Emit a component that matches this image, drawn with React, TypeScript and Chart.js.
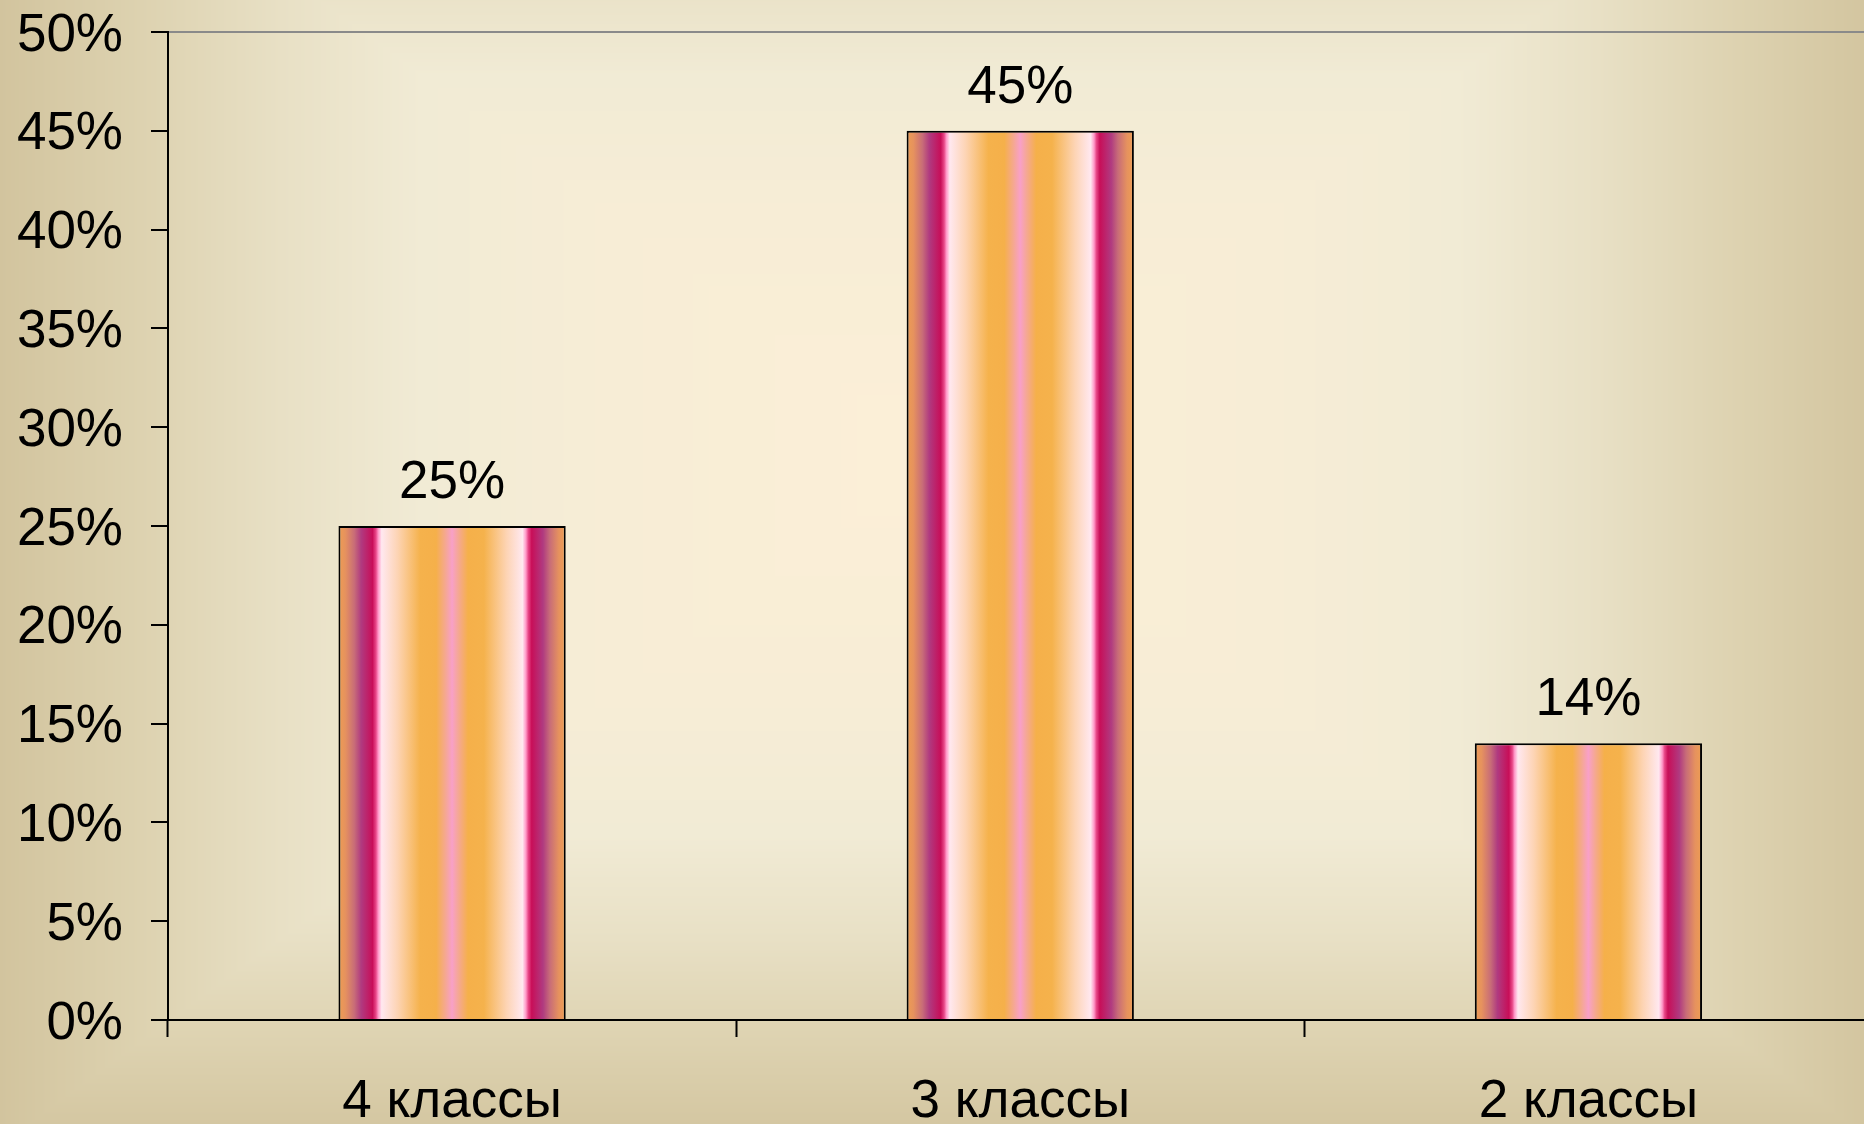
import { useEffect, useRef } from 'react';
import { Chart, registerables } from 'chart.js';

Chart.register(...registerables);

// ---- data ----
const categories = ['4 классы', '3 классы', '2 классы'];
const shares = [25, 45, 14];
const yMin = 0;
const yMax = 50;
const yStep = 5;

// ---- styling ----
const W = 1880;
const H = 1124;
const FONT = '"Liberation Sans", Arial, Helvetica, sans-serif';
const FONT_SIZE = 53;

const barStops: [number, string][] = [
  [0.0, '#EE9D52'],
  [0.03, '#E6925E'],
  [0.07, '#C86C78'],
  [0.1, '#B03A80'],
  [0.15, '#C80E58'],
  [0.165, '#E84888'],
  [0.175, '#FF98C8'],
  [0.19, '#FFE8F0'],
  [0.26, '#FDD4B4'],
  [0.36, '#F5B24C'],
  [0.43, '#F5B04A'],
  [0.47, '#F5A890'],
  [0.5, '#F8A0C8'],
  [0.53, '#F5A890'],
  [0.57, '#F5B04A'],
  [0.64, '#F5B24C'],
  [0.74, '#FDD4B4'],
  [0.81, '#FFE8F0'],
  [0.825, '#FF98C8'],
  [0.835, '#E84888'],
  [0.85, '#C80E58'],
  [0.9, '#B03A80'],
  [0.93, '#C86C78'],
  [0.97, '#E6925E'],
  [1.0, '#EE9D52'],
];

const bgStops: [number, string][] = [
  [0.0, '#FCEFD7'],
  [0.35, '#F7EDD6'],
  [0.55, '#F1EBD5'],
  [0.7, '#E8E0C5'],
  [0.85, '#DDD2B0'],
  [1.0, '#D2C49E'],
];

function hexToRgb(h: string): [number, number, number] {
  const n = parseInt(h.slice(1), 16);
  return [(n >> 16) & 255, (n >> 8) & 255, n & 255];
}

function makeBackground(w: number, h: number): HTMLCanvasElement {
  const c = document.createElement('canvas');
  c.width = w;
  c.height = h;
  const g = c.getContext('2d')!;
  const img = g.createImageData(w, h);
  const stops = bgStops.map(([o, col]) => [o, ...hexToRgb(col)] as [number, number, number, number]);
  const cx = 939;
  const cy = 455;
  const ky = 0.734;
  const tmax = 940;
  for (let y = 0; y < h; y++) {
    const dy = Math.abs(y - cy) / ky;
    for (let x = 0; x < w; x++) {
      let t = Math.max(Math.abs(x - cx), dy) / tmax;
      if (t > 1) t = 1;
      let k = 0;
      while (k < stops.length - 2 && t > stops[k + 1][0]) k++;
      const a = stops[k];
      const b = stops[k + 1];
      const f = (t - a[0]) / (b[0] - a[0]);
      const i = (y * w + x) * 4;
      img.data[i] = a[1] + (b[1] - a[1]) * f;
      img.data[i + 1] = a[2] + (b[2] - a[2]) * f;
      img.data[i + 2] = a[3] + (b[3] - a[3]) * f;
      img.data[i + 3] = 255;
    }
  }
  g.putImageData(img, 0, 0);
  return c;
}

export default function App() {
  const ref = useRef<HTMLCanvasElement | null>(null);

  useEffect(() => {
    if (!ref.current) return;
    const bg = makeBackground(W, H);

    const bgPlugin = {
      id: 'bgPlugin',
      beforeDraw(chart: any) {
        chart.ctx.save();
        chart.ctx.drawImage(bg, 0, 0);
        chart.ctx.restore();
      },
    };

    const labelPlugin = {
      id: 'valueLabels',
      afterDatasetsDraw(chart: any) {
        const ctx = chart.ctx;
        const meta = chart.getDatasetMeta(0);
        ctx.save();
        ctx.font = `${FONT_SIZE}px ${FONT}`;
        ctx.fillStyle = '#000';
        ctx.textAlign = 'center';
        ctx.textBaseline = 'alphabetic';
        meta.data.forEach((el: any, i: number) => {
          ctx.fillText(`${shares[i]}%`, el.x, el.y - 28);
        });
        ctx.restore();
      },
    };

    const chart = new Chart(ref.current, {
      type: 'bar',
      data: {
        labels: categories,
        datasets: [
          {
            data: shares,
            backgroundColor: (c: any) => {
              const chart = c.chart;
              const xs = chart.scales && chart.scales.x;
              if (!xs || !chart.chartArea || c.dataIndex === undefined) return '#F5B04A';
              const center = xs.getPixelForValue(c.dataIndex);
              const half = ((xs.width / categories.length) * 0.4) / 2;
              const g = chart.ctx.createLinearGradient(center - half, 0, center + half, 0);
              barStops.forEach(([o, col]) => g.addColorStop(o, col));
              return g;
            },
            borderColor: '#000',
            borderWidth: 2,
            barPercentage: 0.4,
            categoryPercentage: 1.0,
          },
        ],
      },
      options: {
        responsive: false,
        animation: false,
        layout: { padding: { left: 0, right: W - 1872.5, top: 32, bottom: 0 } },
        plugins: {
          legend: { display: false },
          tooltip: { enabled: false },
        },
        scales: {
          x: {
            ticks: { color: '#000', font: { family: FONT, size: FONT_SIZE }, padding: 34 },
            grid: {
              drawOnChartArea: false,
              tickLength: 17,
              tickColor: '#000',
              tickWidth: 2,
              offset: true,
            },
            border: { display: true, color: '#000', width: 2 },
            afterFit: (s: any) => {
              s.height = 104;
              s.paddingLeft = 0;
              s.paddingRight = 0;
            },
          },
          y: {
            min: yMin,
            max: yMax,
            ticks: {
              stepSize: yStep,
              callback: (v: any) => `${v}%`,
              color: '#000',
              font: { family: FONT, size: FONT_SIZE },
              padding: 28,
              labelOffset: 4,
            },
            grid: {
              color: (c: any) => (c.tick && c.tick.value === yMax ? '#8a8a8a' : 'rgba(0,0,0,0)'),
              lineWidth: 2,
              tickColor: '#000',
              tickLength: 17,
              tickWidth: 2,
              drawOnChartArea: true,
            },
            border: { display: true, color: '#000', width: 2 },
            afterFit: (s: any) => {
              s.width = 168;
              s.paddingTop = 0;
              s.paddingBottom = 0;
            },
          },
        },
      },
      plugins: [bgPlugin, labelPlugin],
    } as any);

    return () => chart.destroy();
  }, []);

  return (
    <div
      style={{
        position: 'fixed',
        left: 0,
        top: 0,
        width: 1864,
        height: 1124,
        overflow: 'hidden',
        background: '#D9CCA8',
      }}
    >
      <canvas ref={ref} width={W} height={H} style={{ display: 'block', width: W, height: H }} />
    </div>
  );
}
